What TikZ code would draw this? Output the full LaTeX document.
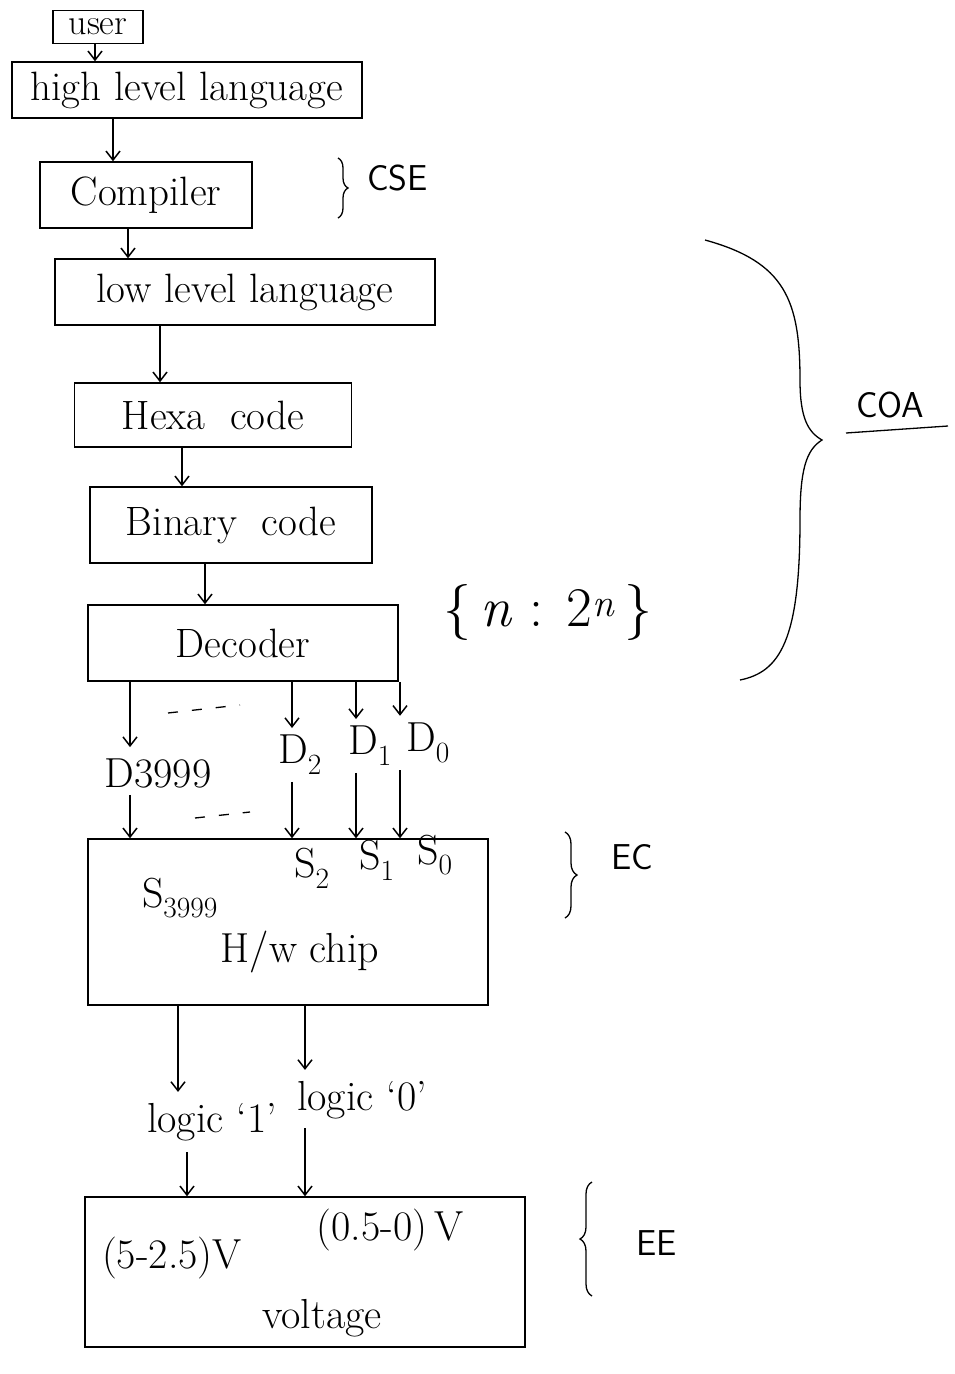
\documentclass[tikz,border=0pt]{standalone}
\usepackage{fontspec}
\usetikzlibrary{arrows.meta,decorations.pathreplacing}
\newcommand\bigf{\fontsize{41}{46}\selectfont}
\newcommand\midf{\fontsize{42}{48}\selectfont}
\newcommand\capf{\sffamily\fontsize{36}{40}\selectfont}
\newcommand\sbs[1]{\textsubscript{#1}}
\tikzset{
  box/.style={draw, line width=1.5pt, inner sep=0pt, font=\bigf},
  arr/.style={-{Straight Barb[length=9pt,width=14pt,line width=1.5pt]}, line width=1.5pt},
  lbl/.style={font=\midf, inner sep=1pt},
  captext/.style={font=\capf, inner sep=1pt},
  brc/.style={decorate, decoration={brace, amplitude=#1}, line width=1.3pt},
}
\begin{document}
\begin{tikzpicture}[x=1pt,y=-1pt]
\useasboundingbox (0,0) rectangle (954,1374);
% main chain
\node[box, minimum width=90, minimum height=33, font=\fontsize{36}{40}\selectfont] (user) at (98,27) {user};
\node[box, minimum width=350, minimum height=56] (hll) at (187,90) {high level language};
\node[box, minimum width=212, minimum height=66] (comp) at (146,195) {Compiler};
\node[box, minimum width=380, minimum height=66] (lll) at (245,292) {low level language};
\node[box, minimum width=277, minimum height=64] (hexa) at (213,415) {Hexa\ \ code};
\node[box, minimum width=282, minimum height=76] (bin) at (231,525) {Binary\ \ code};
\node[box, minimum width=310, minimum height=76] (dec) at (243,643) {Decoder};
\node[box, minimum width=400, minimum height=166] (hw) at (288,922) {};
\node[box, minimum width=440, minimum height=150] (volt) at (305,1272) {};

\coordinate (x0) at (95,0);
\coordinate (x1) at (113,0);
\coordinate (x2) at (128,0);
\coordinate (x3) at (160,0);
\coordinate (x4) at (182,0);
\coordinate (x5) at (205,0);
\draw[arr] (user.south -| x0) -- (hll.north -| x0);
\draw[arr] (hll.south -| x1) -- (comp.north -| x1);
\draw[arr] (comp.south -| x2) -- (lll.north -| x2);
\draw[arr] (lll.south -| x3) -- (hexa.north -| x3);
\draw[arr] (hexa.south -| x4) -- (bin.north -| x4);
\draw[arr] (bin.south -| x5) -- (dec.north -| x5);

% decoder outputs
\node[lbl] (Dn) at (158,773) {D3999};
\node[lbl] (D2) at (300,755) {D\sbs{2}};
\node[lbl] (D1) at (370,746) {D\sbs{1}};
\node[lbl] (D0) at (428,743) {D\sbs{0}};
\coordinate (xn) at (130,0);
\coordinate (x2d) at (292,0);
\coordinate (x1d) at (356,0);
\coordinate (x0d) at (400,0);
\draw[arr, shorten >=10pt] (dec.south -| xn) -- (Dn.north -| xn);
\draw[arr, shorten >=6pt] (dec.south -| x2d) -- (D2.north -| x2d);
\draw[arr, shorten >=6pt] (dec.south -| x1d) -- (D1.north -| x1d);
\draw[arr, shorten >=6pt] (dec.south -| x0d) -- (D0.north -| x0d);
\draw[line width=1.3pt, dash pattern=on 10pt off 14pt] (168,713) -- (240,705);
\draw[arr, shorten <=6pt] (Dn.south -| xn) -- (hw.north -| xn);
\draw[arr, shorten <=6pt] (D2.south -| x2d) -- (hw.north -| x2d);
\draw[arr, shorten <=6pt] (D1.south -| x1d) -- (hw.north -| x1d);
\draw[arr, shorten <=6pt] (D0.south -| x0d) -- (hw.north -| x0d);
\draw[line width=1.3pt, dash pattern=on 10pt off 14pt] (195,818) -- (250,812);

% H/w chip contents
\node[lbl] (S3) at (180,898) {S\sbs{3999}};
\node[lbl] (S2) at (312,868) {S\sbs{2}};
\node[lbl] (S1) at (377,860) {S\sbs{1}};
\node[lbl] (S0) at (435,855) {S\sbs{0}};
\node[lbl] (hwt) at (300,952) {H/w chip};

% logic levels
\node[lbl] (L1) at (212,1122) {logic `1'};
\node[lbl] (L0) at (362,1100) {logic `0'};
\coordinate (xl1) at (178,0);
\coordinate (xl0) at (305,0);
\coordinate (xv1) at (187,0);
\draw[arr, shorten >=10pt] (hw.south -| xl1) -- (L1.north -| xl1);
\draw[arr, shorten >=10pt] (hw.south -| xl0) -- (L0.north -| xl0);
\draw[arr, shorten <=10pt] (L1.south -| xv1) -- (volt.north -| xv1);
\draw[arr, shorten <=8pt] (L0.south -| xl0) -- (volt.north -| xl0);

% voltage contents
\node[lbl] (v1) at (172,1258) {(5-2.5)V};
\node[lbl] (v0) at (390,1230) {(0.5-0)\,V};
\node[lbl] (vt) at (322,1318) {voltage};

% side annotations
\draw[brc=10] (338,158) -- (338,218);
\node[captext, anchor=west] (cse) at (366,178) {CSE};
\node[font=\fontsize{56}{60}\selectfont, inner sep=1pt] (nn) at (548,612) {\{\,\textit{n} : 2\textsuperscript{\textit{n}}\,\}};
\draw[brc=12] (565,832) -- (565,918);
\node[captext, anchor=west] (ec) at (610,857) {EC};
\draw[brc=12] (592,1296) -- (592,1182);
\node[captext, anchor=west] (ee) at (635,1243) {EE};
\draw[line width=1.3pt] (705,240) .. controls (785,262) and (800,300) .. (800,380)
  .. controls (800,418) and (808,432) .. (822,440)
  .. controls (806,450) and (800,470) .. (800,520)
  .. controls (800,640) and (780,672) .. (740,680);
\node[captext, anchor=west] (coa) at (855,405) {COA};
\draw[line width=1.3pt] (846,433) -- (948,426);
\end{tikzpicture}
\end{document}
